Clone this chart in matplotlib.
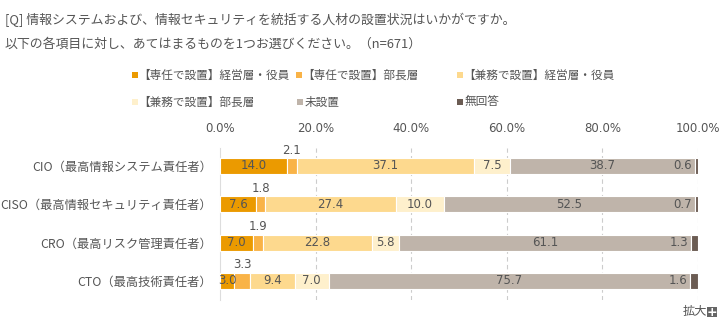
import matplotlib
matplotlib.use("Agg")
import matplotlib.pyplot as plt
from matplotlib.patches import Rectangle
import numpy as np

JP = ["Noto Sans CJK JP", "DejaVu Sans"]

# データ
categories = ["CIO（最高情報システム責任者）", "CISO（最高情報セキュリティ責任者）",
              "CRO（最高リスク管理責任者）", "CTO（最高技術責任者）"]
series_names = ["【専任で設置】経営層・役員", "【専任で設置】部長層", "【兼務で設置】経営層・役員",
                "【兼務で設置】部長層", "未設置", "無回答"]
senin_keiei = [14.0, 7.6, 7.0, 3.0]
senin_bucho = [2.1, 1.8, 1.9, 3.3]
kenmu_keiei = [37.1, 27.4, 22.8, 9.4]
kenmu_bucho = [7.5, 10.0, 5.8, 7.0]
misecchi = [38.7, 52.5, 61.1, 75.7]
mukaito = [0.6, 0.7, 1.3, 1.6]
ticks = [0, 20, 40, 60, 80, 100]

colors = ["#EB9A00", "#F9B347", "#FDD98E", "#FEF0CC", "#BFB4AA", "#6B5C53"]
txt = "#555555"
jp_size = 8.8

series = [senin_keiei, senin_bucho, kenmu_keiei, kenmu_bucho, misecchi, mukaito]

fig = plt.figure(figsize=(7.22, 3.27), dpi=100)
ax = fig.add_axes([220 / 722, 1 - 300 / 327, 478 / 722, 152 / 327])

y = np.arange(len(categories))
left = np.zeros(len(categories))
for i, vals in enumerate(series):
    vals = np.array(vals)
    ax.barh(y, vals, left=left, height=0.42, color=colors[i], edgecolor="white", linewidth=0.8, zorder=3)
    for j, v in enumerate(vals):
        cx = left[j] + v / 2
        if i == 1:
            ax.annotate(f"{v:.1f}", (cx, y[j] - 0.21), xytext=(0, 1), textcoords="offset points",
                        ha="center", va="bottom", fontsize=8.5, color=txt, family="DejaVu Sans")
        elif i == 5:
            ax.annotate(f"{v:.1f}", (left[j], y[j]), xytext=(-2, 0), textcoords="offset points",
                        ha="right", va="center", fontsize=8.5, color=txt, family="DejaVu Sans", zorder=4)
        else:
            ax.text(cx, y[j], f"{v:.1f}", ha="center", va="center", fontsize=8.5, color=txt,
                    family="DejaVu Sans", zorder=4)
    left += vals

ax.set_xlim(0, 100)
ax.set_ylim(3.5, -0.47)
ax.set_xticks(ticks)
ax.set_xticklabels([f"{t:.1f}%" for t in ticks], fontsize=8.5, color=txt, family="DejaVu Sans")
ax.xaxis.tick_top()
ax.tick_params(axis="x", length=0, pad=9)
ax.set_yticks(y)
ax.set_yticklabels(categories, fontsize=jp_size, color=txt, family=JP)
ax.tick_params(axis="y", length=0, pad=6)
for t in ticks[1:]:
    ax.axvline(t, color="#cccccc", linestyle=(0, (4, 3)), linewidth=0.8, zorder=1)
for s in ["top", "right", "bottom"]:
    ax.spines[s].set_visible(False)
ax.spines["left"].set_color("#dddddd")

# タイトル
fig.text(5 / 722, 1 - 20 / 327, "[Q] 情報システムおよび、情報セキュリティを統括する人材の設置状況はいかがですか。",
         fontsize=9.3, color=txt, family=JP, va="center")
fig.text(5 / 722, 1 - 44 / 327, "以下の各項目に対し、あてはまるものを1つお選びください。（n=671）",
         fontsize=9.3, color=txt, family=JP, va="center")

# 凡例
leg_pos = [(132, 75), (296, 75), (457, 75), (132, 102), (297, 102), (457, 102)]
for (px, py), name, c in zip(leg_pos, series_names, colors):
    fig.add_artist(Rectangle((px / 722, 1 - (py + 3) / 327), 6 / 722, 6 / 327,
                             transform=fig.transFigure, facecolor=c, edgecolor="none"))
    xoff = 6 if name.startswith("【") else 8
    fig.text((px + xoff) / 722, 1 - py / 327, name, fontsize=jp_size - 0.4, color=txt, family=JP, va="center")

# 拡大
fig.text(695 / 722, 1 - 312 / 327, "拡大", fontsize=jp_size, color=txt, family=JP, va="center", ha="center")
fig.add_artist(Rectangle((707 / 722, 1 - 317 / 327), 10 / 722, 10 / 327,
                         transform=fig.transFigure, facecolor="#666666", edgecolor="none"))
fig.text(712 / 722, 1 - 312 / 327, "+", fontsize=9, color="white", family="DejaVu Sans",
         va="center", ha="center", fontweight="bold")

fig.savefig("out.png", dpi=100, facecolor="white")
